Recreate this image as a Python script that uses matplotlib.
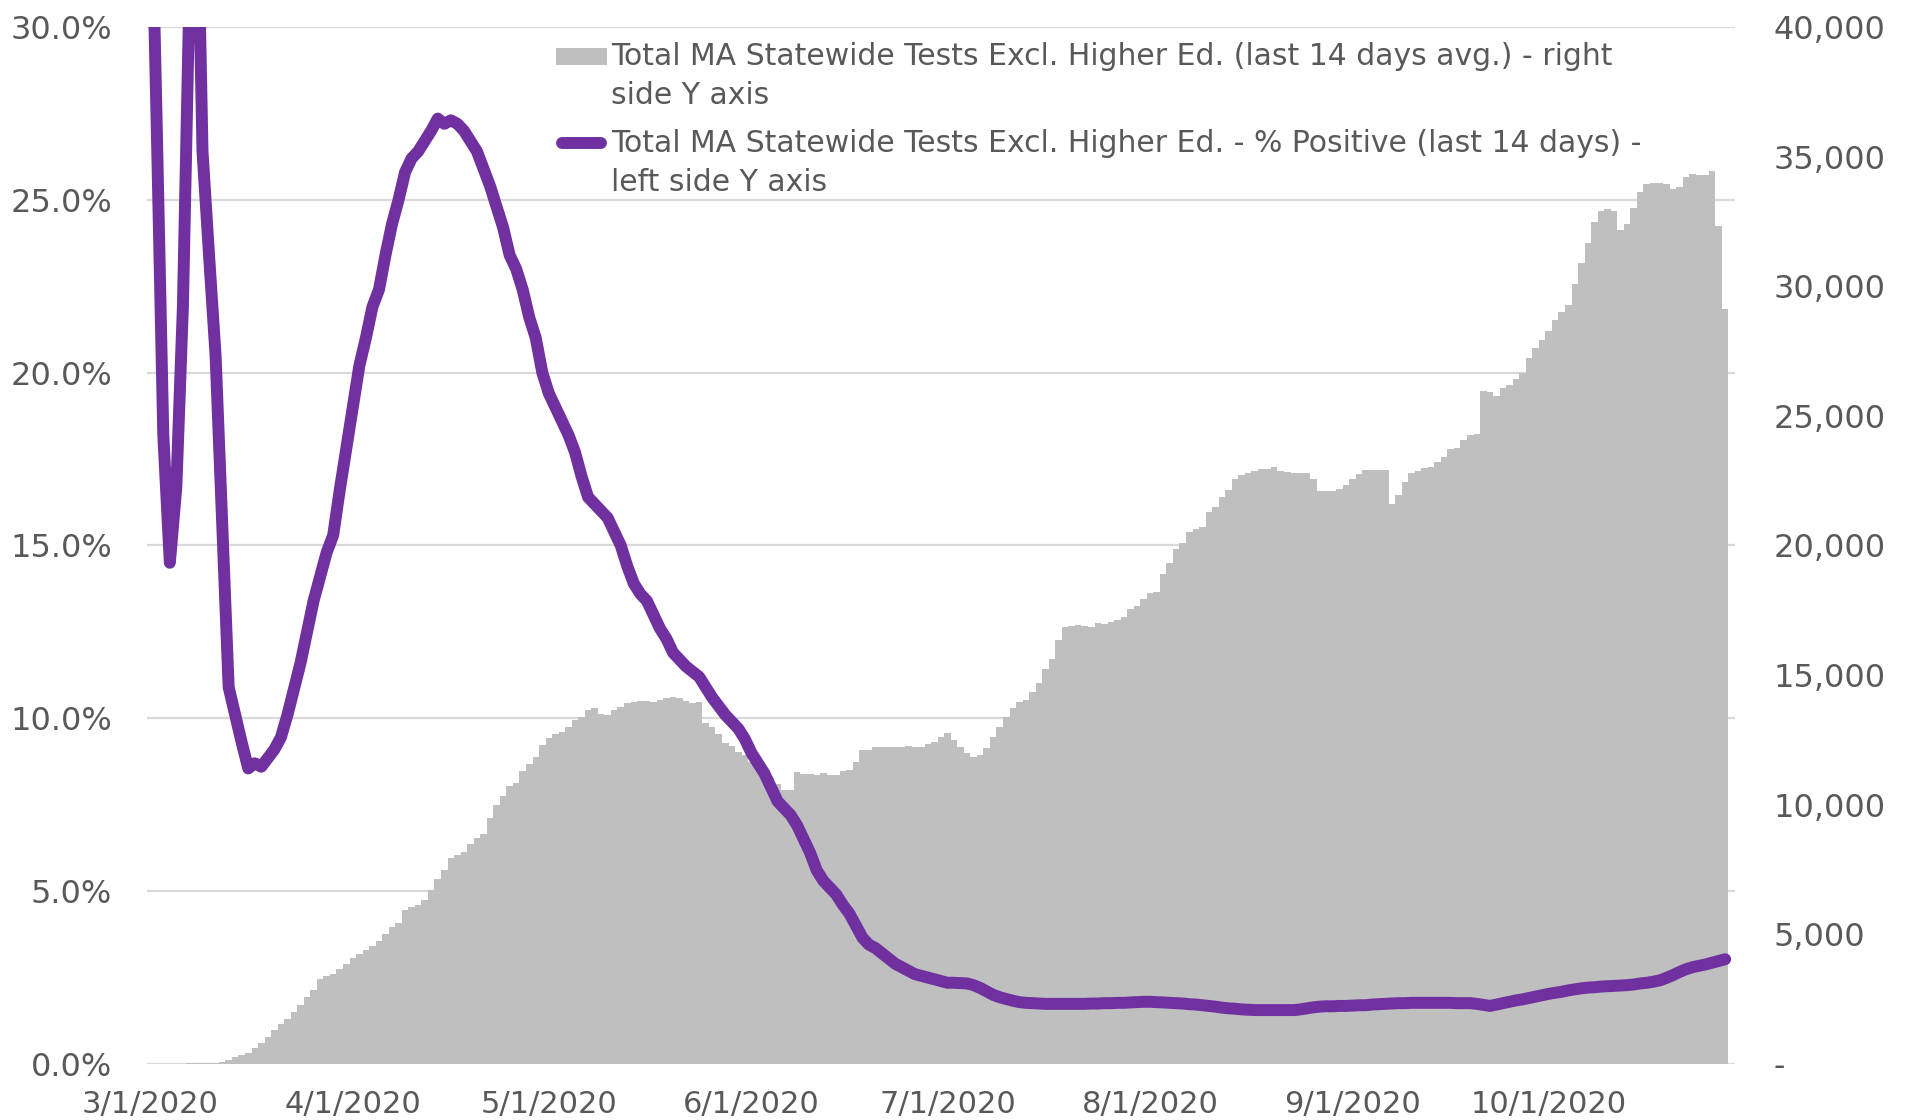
import matplotlib
matplotlib.use("Agg")
import matplotlib.pyplot as plt
import matplotlib.ticker as mticker
from matplotlib.patches import Rectangle
import pandas as pd

# daily values, 3/1/2020 .. 10/28/2020
start_date = "2020-03-01"

tests_14d_avg = [
    0, 0, 0, 5, 10, 15, 20, 25, 30, 40,
    50, 80, 160, 270, 350, 430, 610, 820, 1060, 1330,
    1540, 1730, 2000, 2260, 2600, 2870, 3270, 3400, 3480, 3670,
    3860, 4070, 4260, 4390, 4550, 4730, 5000, 5270, 5450, 5930,
    6060, 6140, 6330, 6730, 7130, 7470, 7930, 8060, 8190, 8500,
    8700, 8860, 9470, 9975, 10320, 10720, 10850, 11300, 11570, 11860,
    12320, 12580, 12710, 12790, 12980, 13250, 13380, 13650, 13730, 13510,
    13460, 13650, 13780, 13910, 13970, 13990, 13990, 13970, 14040, 14120,
    14150, 14120, 13990, 13910, 13970, 13170, 12980, 12710, 12370, 12260,
    12050, 11920, 11650, 11380, 11200, 11030, 10800, 10580, 10560, 11250,
    11200, 11180, 11160, 11224, 11130, 11130, 11300, 11340, 11660, 12120,
    12120, 12220, 12220, 12220, 12220, 12230, 12250, 12230, 12230, 12330,
    12420, 12600, 12750, 12480, 12220, 11990, 11840, 11900, 12180, 12600,
    13000, 13400, 13750, 13980, 14040, 14330, 14710, 15250, 15640, 16350,
    16850, 16910, 16940, 16890, 16850, 17020, 16980, 17060, 17110, 17230,
    17560, 17650, 17940, 18170, 18210, 18900, 19320, 19860, 20100, 20520,
    20640, 20710, 21290, 21480, 21870, 22140, 22560, 22700, 22800, 22870,
    22950, 22950, 23030, 22870, 22820, 22780, 22780, 22800, 22560, 22120,
    22100, 22120, 22170, 22330, 22560, 22760, 22910, 22910, 22910, 22910,
    21600, 21950, 22450, 22800, 22870, 22990, 23030, 23220, 23410, 23720,
    23760, 24070, 24260, 24300, 25960, 25920, 25770, 26070, 26190, 26420,
    26670, 27250, 27610, 27920, 28270, 28700, 29000, 29290, 30090, 30880,
    31650, 32470, 32900, 32980, 32900, 32180, 32420, 33020, 33650, 33960,
    33990, 33990, 33960, 33750, 33830, 34210, 34340, 34300, 34300, 34450,
    32320, 29120,
]

pct_positive_14d = [
    35.6, 27.1, 18.2, 14.5, 16.7, 21.9, 31.0, 36.0, 26.4, 23.4,
    20.5, 15.7, 10.9, 10.1, 9.3, 8.55, 8.7, 8.6, 8.85, 9.1,
    9.45, 10.1, 10.85, 11.6, 12.5, 13.4, 14.1, 14.8, 15.3, 16.6,
    17.8, 19.0, 20.2, 21.0, 21.9, 22.4, 23.4, 24.3, 25.0, 25.8,
    26.2, 26.4, 26.7, 27.0, 27.35, 27.2, 27.3, 27.2, 27.0, 26.7,
    26.4, 25.9, 25.4, 24.8, 24.2, 23.4, 23.0, 22.4, 21.6, 21.0,
    20.0, 19.4, 19.0, 18.6, 18.2, 17.7, 17.0, 16.4, 16.2, 16.0,
    15.8, 15.4, 15.0, 14.4, 13.9, 13.6, 13.4, 13.0, 12.6, 12.3,
    11.9, 11.7, 11.5, 11.35, 11.2, 10.9, 10.6, 10.35, 10.1, 9.9,
    9.7, 9.4, 9.0, 8.7, 8.4, 8.0, 7.6, 7.4, 7.2, 6.9,
    6.5, 6.1, 5.6, 5.3, 5.1, 4.9, 4.6, 4.35, 4.0, 3.65,
    3.45, 3.35, 3.2, 3.05, 2.9, 2.8, 2.7, 2.6, 2.55, 2.5,
    2.45, 2.4, 2.35, 2.35, 2.34, 2.33, 2.28, 2.2, 2.1, 2.0,
    1.93, 1.88, 1.83, 1.79, 1.77, 1.76, 1.75, 1.74, 1.74, 1.74,
    1.74, 1.74, 1.74, 1.74, 1.75, 1.75, 1.76, 1.76, 1.77, 1.77,
    1.78, 1.79, 1.80, 1.80, 1.79, 1.78, 1.77, 1.76, 1.75, 1.73,
    1.72, 1.70, 1.68, 1.66, 1.63, 1.61, 1.60, 1.58, 1.57, 1.56,
    1.56, 1.56, 1.56, 1.56, 1.56, 1.56, 1.58, 1.61, 1.64, 1.66,
    1.67, 1.67, 1.68, 1.68, 1.69, 1.70, 1.70, 1.72, 1.73, 1.74,
    1.75, 1.76, 1.76, 1.77, 1.77, 1.77, 1.77, 1.77, 1.77, 1.77,
    1.76, 1.76, 1.76, 1.74, 1.71, 1.68, 1.72, 1.76, 1.80, 1.84,
    1.87, 1.91, 1.95, 1.99, 2.03, 2.06, 2.09, 2.13, 2.16, 2.19,
    2.21, 2.22, 2.24, 2.25, 2.26, 2.27, 2.28, 2.30, 2.33, 2.35,
    2.38, 2.42, 2.49, 2.57, 2.66, 2.74, 2.80, 2.84, 2.88, 2.93,
    2.98, 3.03,
]

month_labels = ["3/1/2020", "4/1/2020", "5/1/2020", "6/1/2020",
                "7/1/2020", "8/1/2020", "9/1/2020", "10/1/2020"]
pct_ticks = [0, 5, 10, 15, 20, 25, 30]
tests_ticks = [0, 5000, 10000, 15000, 20000, 25000, 30000, 35000, 40000]

bar_label = ["Total MA Statewide Tests Excl. Higher Ed. (last 14 days avg.) - right",
             "side Y axis"]
line_label = ["Total MA Statewide Tests Excl. Higher Ed. - % Positive (last 14 days) -",
              "left side Y axis"]

GREY = "#BFBFBF"
PURPLE = "#7030A0"
TEXT = "#595959"
GRID = "#D9D9D9"

plt.rcParams["font.family"] = ["DejaVu Sans"]

dates = pd.date_range(start_date, periods=len(tests_14d_avg), freq="D")

fig = plt.figure(figsize=(19.16, 11.2), dpi=100)
ax = fig.add_axes([0.0767, 0.05, 0.8288, 0.9259])
ax2 = ax.twinx()   # twinx puts the host ticks on the left, so set sides afterwards

# bars on the bottom axes (right side scale)
ax.bar(dates, tests_14d_avg, width=1.0, color=GREY, linewidth=0, zorder=2)
ax.set_ylim(0, 40000)
ax.set_xlim(dates[0] - pd.Timedelta(hours=12), dates[-1] + pd.Timedelta(hours=36))

# horizontal grid follows the % axis, drawn under the bars
for p in pct_ticks:
    ax.axhline(p / 30 * 40000, color=GRID, lw=1.6, zorder=1)

ax.yaxis.tick_right()
ax.yaxis.set_label_position("right")
ax.set_yticks(tests_ticks)
ax.yaxis.set_major_formatter(mticker.FuncFormatter(
    lambda v, p: "-" if v == 0 else "{:,.0f}".format(v)))

ax.set_xticks(pd.to_datetime(month_labels, format="%m/%d/%Y"))
ax.set_xticklabels(month_labels)

ax.tick_params(axis="y", length=0, pad=28, labelsize=23, labelcolor=TEXT)
ax.tick_params(axis="x", length=0, pad=19, labelsize=22, labelcolor=TEXT)

# line on the twin axes (left side scale)
ax2.plot(dates, pct_positive_14d, color=PURPLE, lw=8.6,
         solid_joinstyle="round", solid_capstyle="round", zorder=3)
ax2.set_ylim(0, 30)
ax2.yaxis.tick_left()
ax2.yaxis.set_label_position("left")
ax2.set_yticks(pct_ticks)
ax2.yaxis.set_major_formatter(mticker.FuncFormatter(lambda v, p: "%.1f%%" % v))
ax2.tick_params(axis="y", length=0, pad=25, labelsize=23, labelcolor=TEXT)

for a in (ax, ax2):
    for s in a.spines.values():
        s.set_visible(False)

# legend, drawn by hand so the keys sit on the first text line
ax2.add_patch(Rectangle((0.2576, 0.9711 - 0.0082), 0.0321, 0.0164,
                        transform=ax2.transAxes, color=GREY, lw=0, clip_on=False))
ax2.plot([0.2615, 0.2858], [0.8881, 0.8881], transform=ax2.transAxes,
         color=PURPLE, lw=8.6, solid_capstyle="round", clip_on=False)
for txt, y in zip(bar_label + line_label, [0.9711, 0.9344, 0.8881, 0.8505]):
    ax2.text(0.2922, y, txt, transform=ax2.transAxes, ha="left", va="center",
             fontsize=21.5, color=TEXT)

fig.savefig("out.png", dpi=100)
